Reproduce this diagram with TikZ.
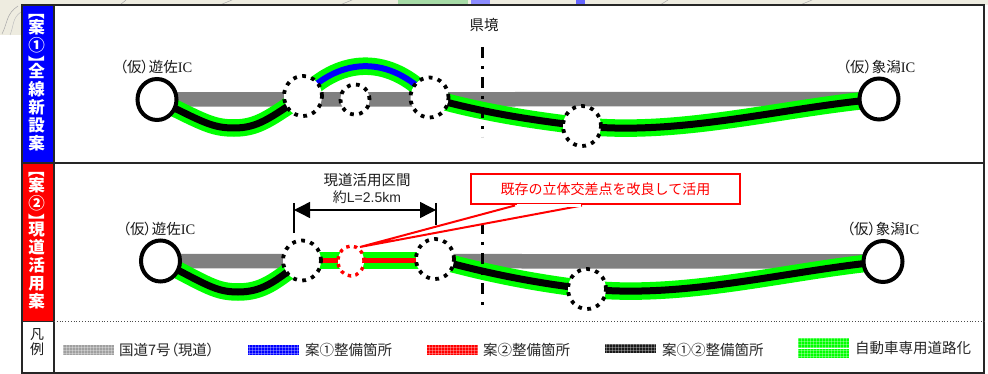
\documentclass[tikz,border=0pt]{standalone}
\usepackage{fontspec}
\setmainfont{Liberation Sans}
\newfontfamily\cjk{Noto Sans CJK JP}
\newfontfamily\cjkp[RawFeature={+palt}]{Noto Sans CJK JP}
\newfontfamily\serifl{Liberation Serif}
\usetikzlibrary{shapes.geometric,arrows.meta,patterns}
\pgfdeclarelayer{bglayer}
\pgfdeclarelayer{roadlayer}
\pgfsetlayers{bglayer,roadlayer,main}
\definecolor{hgreen}{RGB}{0,255,0}
\definecolor{road}{RGB}{128,128,128}
\definecolor{mapbg}{RGB}{238,236,224}
\tikzset{
  frameline/.style={draw=black!85,line width=1.1pt},
  ic/.style={ellipse,draw=black,line width=4pt,fill=white,minimum width=39pt,minimum height=41pt,inner sep=0pt},
  junc/.style={ellipse,draw=black,line width=3.8pt,dash pattern=on 3.8pt off 5.4pt,fill=white,minimum width=38pt,minimum height=40pt,inner sep=0pt},
  junc small/.style={junc,minimum width=29pt,minimum height=30pt},
  junc red/.style={junc,draw=red,minimum width=26pt,minimum height=30pt,line width=3.4pt,dash pattern=on 3.4pt off 4.4pt},
  lab/.style={font=\cjkp\fontsize{14.5}{16}\selectfont,text=black!90,inner sep=0pt},
  leg/.style={font=\cjk\fontsize{14.5}{16}\selectfont,text=black!85,inner sep=0pt,anchor=west},
  sidecol/.style={font=\cjk\bfseries\fontsize{16.5}{18}\selectfont,text=white,align=center,inner sep=0pt},
  greenroad/.style={draw=hgreen,line width=17.5pt},
  blackroad/.style={draw=black,line width=7pt},
  blueroad/.style={draw=blue,line width=6pt},
  redroad/.style={draw=red,line width=5.5pt},
  greyroad/.style={draw=road,line width=14.5pt},
  borderline/.style={draw=black,line width=3pt,dash pattern=on 11pt off 8pt on 3pt off 8pt},
  callout/.style={draw=red,line width=2pt,fill=white},
  swatch/.style={minimum height=10pt,minimum width=51pt,inner sep=0pt}
}
\newcommand{\sw}[1]{\smash{\rotatebox[origin=c]{-90}{#1}}}
\begin{document}
\begin{tikzpicture}[x=1pt,y=-1pt]
\useasboundingbox (0,0) rectangle (988,374);
\begin{pgfonlayer}{bglayer}
  \fill[white] (0,0) rectangle (988,374);
  \fill[mapbg] (0,0) rectangle (988,5);
  \fill[mapbg] (0,0) rectangle (22,35);
  \draw[black!35,line width=0.5pt] (2,34) .. controls (8,22) and (6,14) .. (18,6);
  \draw[black!25,line width=0.5pt] (10,35) .. controls (14,26) and (12,18) .. (21,12);
  \draw[black!35,line width=0.5pt] (120,5) -- (126,0) (220,5) -- (232,0) (340,5) -- (352,0) (660,5) -- (668,0) (800,5) -- (812,0);
  \fill[green!60!black!35!white] (398,0) rectangle (468,5);
  \fill[blue!45!white] (471,0) rectangle (490,5);
  \fill[blue!60!white] (576,0) rectangle (585,5);
  \fill[white] (22,5) rectangle (984,373);
  \fill[blue] (22,5) rectangle (54,163);
  \fill[red] (22,163) rectangle (54,321);
\end{pgfonlayer}

% frame
\draw[frameline] (22,5) rectangle (984,373);
\draw[frameline] (54,5) -- (54,373);
\draw[frameline] (22,163) -- (984,163);
\draw[frameline] (22,321.5) -- (54,321.5);
\draw[black!70,line width=0.8pt,dotted] (54,321.5) -- (984,321.5);

% side labels
\node[sidecol] (col1) at (36.5,84.5) {\sw{【}\\[-2pt]案\\①\\\sw{】}\\[-10.5pt]全\\線\\新\\設\\案};
\node[sidecol] (col2) at (36.5,242.5) {\sw{【}\\[-2pt]案\\②\\\sw{】}\\[-10.5pt]現\\道\\活\\用\\案};
\node[lab,font=\cjk\fontsize{14}{15.5}\selectfont,align=center] (col3) at (37,342) {凡\\例};

% row 1 nodes
\node[ic] (a1) at (157,99.5) {};
\node[ic] (b1) at (879,99) {};
\node[junc] (c1) at (303,96) {};
\node[junc small] (d1) at (355,99.5) {};
\node[junc] (e1) at (429.5,97.5) {};
\node[junc] (f1) at (582,126) {};
\node[lab] (t1) at (156,67) {（仮）遊佐{\serifl IC}};
\node[lab] (t2) at (879,67) {（仮）象潟{\serifl IC}};
\node[lab] (t3) at (484,25) {県境};
\coordinate (k1a) at (482,47);
\coordinate (k1b) at (482,137);

% row 2 nodes
\node[ic] (a2) at (160.5,261) {};
\node[ic] (b2) at (883,261.5) {};
\node[junc] (c2) at (302,260.5) {};
\node[junc red] (d2) at (351,261) {};
\node[junc] (e2) at (435,259) {};
\node[junc] (f2) at (587,289) {};
\node[lab] (t4) at (159,229) {（仮）遊佐{\serifl IC}};
\node[lab] (t5) at (883,229) {（仮）象潟{\serifl IC}};
\coordinate (k2a) at (482,223);
\coordinate (k2b) at (482,307);

\begin{pgfonlayer}{roadlayer}
  % row 1
  \draw[greyroad] (a1.center) -- (b1.center);
  \foreach \st in {greenroad,blackroad}{
    \draw[\st] (a1.center) .. controls (203,122) and (212,128) .. (234,128) .. controls (258,128) and (270,118) .. (c1.center);
    \draw[\st] (e1.center) .. controls (480,112) and (530,120) .. (f1.center);
    \draw[\st] (f1.center) .. controls (680,136) and (780,108) .. (b1.center);
  }
  \draw[greenroad] (c1.center) .. controls (342,56) and (390,56) .. (e1.center);
  \draw[blueroad] (c1.center) .. controls (342,56) and (390,56) .. (e1.center);
  % row 2
  \draw[greyroad] (a2.center) -- (b2.center);
  \foreach \st in {greenroad,blackroad}{
    \draw[\st] (a2.center) .. controls (207,285) and (216,292) .. (238,292) .. controls (262,292) and (275,282) .. (c2.center);
    \draw[\st] (e2.center) .. controls (485,273) and (535,283) .. (f2.center);
    \draw[\st] (f2.center) .. controls (685,299) and (785,271) .. (b2.center);
  }
  \draw[greenroad] (c2.center) -- (c2.center -| e2.center);
  \draw[redroad] (c2.center) -- (c2.center -| e2.center);
\end{pgfonlayer}

% prefectural border
\draw[borderline] (k1a) -- (k1b);
\draw[borderline] (k2a) -- (k2b);

% dimension
\node[lab] (t6) at (367,180) {現道活用区間};
\node[font=\fontsize{14}{16}\selectfont,text=black!85,inner sep=0pt] (t7) at (367,197) {{\cjk 約}L=2.5km};
\coordinate (dl) at (294,210);
\coordinate (dr) at (436,210);
\coordinate (dlt) at (294,203);
\coordinate (dlb) at (294,233);
\coordinate (drt) at (436,203);
\coordinate (drb) at (436,225);
\draw[black,line width=1.4pt] (dlt) -- (dlb);
\draw[black,line width=1.4pt] (drt) -- (drb);
\draw[black,line width=1.4pt,{Triangle[length=16pt,width=16pt]}-{Triangle[length=16pt,width=16pt]}] (dl) -- (dr);

% callout
\node[callout,minimum width=269pt,minimum height=30pt,inner sep=0pt,text=red,font=\cjk\fontsize{14}{16}\selectfont] (co) at (605.5,189.5) {既存の立体交差点を改良して活用};
\coordinate (apex) at (360,247);
\fill[white,draw=red,line width=2pt,line join=miter] ([xshift=-90.5pt]co.south) -- (apex) -- ([xshift=-23.5pt]co.south);
\draw[white,line width=2.6pt] ([xshift=-89pt]co.south) -- ([xshift=-25pt]co.south);

% legend
\node[swatch,fill=road!75!white] (s1) at (88.5,349.5) {};
\node[swatch,fill=blue] (s2) at (273.5,350) {};
\node[swatch,fill=red] (s3) at (452.5,350) {};
\node[swatch,minimum height=9pt,fill=black!90] (s4) at (630.5,348.5) {};
\node[swatch,fill=hgreen] (s5) at (823.5,343) {};
\node[swatch,minimum height=9.5pt,fill=hgreen] (s6) at (823.5,353.7) {};
\foreach \n in {s1,s2,s3,s4,s5,s6}{
  \path[pattern=grid,pattern color=white,opacity=0.3] (\n.south west) rectangle (\n.north east);
}
\node[leg,font=\cjkp\fontsize{14.5}{16}\selectfont] (l1) at (119,350) {国道7号（現道）};
\node[leg] (l2) at (305,350) {案①整備箇所};
\node[leg] (l3) at (483,350) {案②整備箇所};
\node[leg] (l4) at (662,350) {案①②整備箇所};
\node[leg] (l5) at (855,348.5) {自動車専用道路化};
\end{tikzpicture}
\end{document}
